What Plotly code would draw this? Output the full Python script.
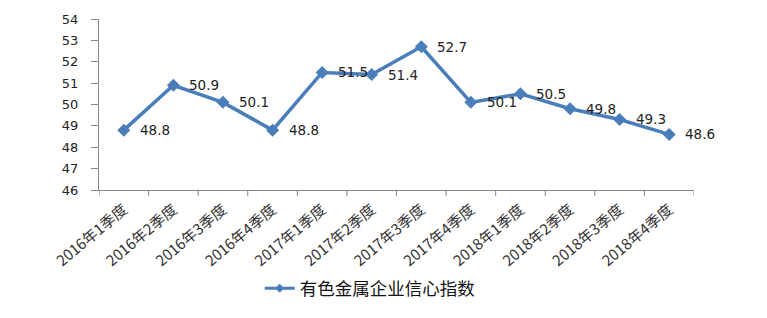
import plotly.graph_objects as go

categories = ["2016年1季度", "2016年2季度", "2016年3季度", "2016年4季度",
              "2017年1季度", "2017年2季度", "2017年3季度", "2017年4季度",
              "2018年1季度", "2018年2季度", "2018年3季度", "2018年4季度"]
values = [48.8, 50.9, 50.1, 48.8, 51.5, 51.4, 52.7, 50.1, 50.5, 49.8, 49.3, 48.6]
series_name = "有色金属企业信心指数"
y_ticks = [46, 47, 48, 49, 50, 51, 52, 53, 54]

FONT = "DejaVu Sans, Noto Sans CJK SC, sans-serif"
BLUE = "#4A7EBB"

xs = list(range(len(categories)))

fig = go.Figure()
fig.add_trace(go.Scatter(
    x=xs, y=values, name=series_name, showlegend=False,
    mode="lines+markers",
    line=dict(color=BLUE, width=3.5),
    marker=dict(symbol="diamond", size=10, color=BLUE),
    cliponaxis=False,
))
# legend entry with a small marker, as in the reference
fig.add_trace(go.Scatter(
    x=[None], y=[None], name=series_name, mode="lines+markers",
    line=dict(color=BLUE, width=3),
    marker=dict(symbol="diamond", size=7, color=BLUE),
))

for x, v in zip(xs, values):
    fig.add_annotation(x=x, y=v, text=f"{v:.1f}", showarrow=False,
                       xanchor="left", yanchor="middle", xshift=14,
                       font=dict(family=FONT, size=13.5, color="#222222"))

fig.update_layout(
    width=767, height=318,
    margin=dict(l=99, r=73, t=15, b=127),
    paper_bgcolor="white", plot_bgcolor="white",
    font=dict(family=FONT, size=12, color="#222222"),
    showlegend=True,
    legend=dict(orientation="h", x=0.455, xanchor="center", y=-0.575, yanchor="middle",
                font=dict(family="Noto Sans CJK SC, sans-serif", size=17.5, color="#111111")),
    xaxis=dict(
        range=[-0.5, len(categories) - 0.5],
        tickmode="array", tickvals=xs, ticktext=categories,
        tickangle=-40, showgrid=False, zeroline=False,
        showline=True, linecolor="#868686", linewidth=1,
        ticks="", ticklabelstandoff=4,
        tickfont=dict(family="Noto Sans CJK SC, sans-serif", size=15, color="#333333"),
    ),
    yaxis=dict(
        range=[46, 54], tickvals=y_ticks, showgrid=False, zeroline=False,
        showline=True, linecolor="#868686", linewidth=1,
        ticks="outside", ticklen=7, tickcolor="#868686",
        ticklabelstandoff=10,
        tickfont=dict(family=FONT, size=13, color="#222222"),
    ),
)

# boundary tick marks on x axis between categories
for i in range(len(categories) + 1):
    fig.add_shape(type="line", xref="x", yref="paper",
                  x0=i - 0.5, x1=i - 0.5, y0=0, y1=-0.035,
                  line=dict(color="#868686", width=1))

fig.write_html("out.html")
